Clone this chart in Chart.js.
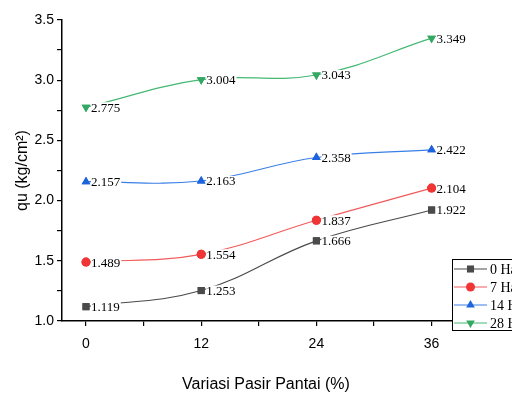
<!DOCTYPE html>
<html>
<head>
<meta charset="utf-8">
<script src="https://cdn.jsdelivr.net/npm/chart.js@4.4.1/dist/chart.umd.min.js"></script>
<style>
  html, body { margin: 0; padding: 0; background: #fff; }
  #wrap { width: 512px; height: 401px; }
</style>
</head>
<body>
<div id="wrap"><canvas id="quChart" width="512" height="401"></canvas></div>
<script>
const xValues = [0, 12, 24, 36];
const seriesNames = ["0 Hari", "7 Hari", "14 Hari", "28 Hari"];
const hari0 = [1.119, 1.253, 1.666, 1.922];
const hari7 = [1.489, 1.554, 1.837, 2.104];
const hari14 = [2.157, 2.163, 2.358, 2.422];
const hari28 = [2.775, 3.004, 3.043, 3.349];
const xTicks = [0, 6, 12, 18, 24, 30, 36];
const xLabelTicks = [0, 12, 24, 36];
const yTicks = [1.0, 1.25, 1.5, 1.75, 2.0, 2.25, 2.5, 2.75, 3.0, 3.25, 3.5];
const yLabelTicks = [1.0, 1.5, 2.0, 2.5, 3.0, 3.5];

function toPoints(vals) {
    return vals.map((v, i) => ({ x: xValues[i], y: v }));
}

function makeSet(label, vals, lineColor, markColor, style, rot, r) {
    return {
        label: label,
        data: toPoints(vals),
        borderColor: lineColor,
        backgroundColor: markColor,
        pointBackgroundColor: markColor,
        pointBorderColor: markColor,
        pointBorderWidth: 0,
        pointStyle: style,
        pointRotation: rot,
        pointRadius: r,
        borderWidth: 1.2,
        tension: 0.4,
        fill: false
    };
}

// value labels with white box, then the legend box
const labelPlugin = {
    id: "valueLabels",
    afterDatasetsDraw(chart) {
        const ctx = chart.ctx;
        ctx.save();
        ctx.font = "13px 'Liberation Serif', 'Times New Roman', serif";
        ctx.textBaseline = "middle";
        chart.data.datasets.forEach((ds, di) => {
            const meta = chart.getDatasetMeta(di);
            meta.data.forEach((pt, i) => {
                const txt = ds.data[i].y.toFixed(3);
                const w = ctx.measureText(txt).width;
                const x = pt.x + 5;
                const y = pt.y + 1;
                ctx.fillStyle = "#fff";
                ctx.fillRect(x, y - 6, w + 1, 12);
                ctx.fillStyle = "#000";
                ctx.fillText(txt, x, y);
            });
            meta.data.forEach(pt => pt.draw(ctx));
        });

        // legend
        const bx = 452, by = 259, bh = 71;
        ctx.fillStyle = "#fff";
        ctx.fillRect(bx, by, 80, bh);
        ctx.strokeStyle = "#000";
        ctx.lineWidth = 1;
        ctx.strokeRect(bx + 0.5, by + 0.5, 80, bh);
        chart.data.datasets.forEach((ds, di) => {
            const y = by + 10 + di * 18;
            ctx.strokeStyle = ds.borderColor;
            ctx.lineWidth = 1.2;
            ctx.beginPath();
            ctx.moveTo(454, y);
            ctx.lineTo(487, y);
            ctx.stroke();
            ctx.fillStyle = ds.pointBackgroundColor;
            ctx.strokeStyle = ds.pointBackgroundColor;
            ctx.lineWidth = 0;
            Chart.helpers.drawPoint(ctx, {
                pointStyle: ds.pointStyle,
                rotation: ds.pointRotation,
                radius: ds.pointRadius,
                borderWidth: 0
            }, 470.5, y);
            ctx.fillStyle = "#000";
            ctx.font = "14px 'Liberation Serif', 'Times New Roman', serif";
            ctx.fillText(ds.label, 490, y + 1);
        });
        ctx.restore();
    }
};

const ctx = document.getElementById("quChart").getContext("2d");
const chart = new Chart(ctx, {
    type: "line",
    data: {
        datasets: [
            makeSet(seriesNames[0], hari0, "#4a4a4a", "#4a4a4a", "rect", 0, 5),
            makeSet(seriesNames[1], hari7, "#f25a5a", "#ef3535", "circle", 0, 4.5),
            makeSet(seriesNames[2], hari14, "#3a7fe6", "#1c63dd", "triangle", 0, 5),
            makeSet(seriesNames[3], hari28, "#45b874", "#33a862", "triangle", 180, 5)
        ]
    },
    options: {
        responsive: false,
        animation: false,
        layout: { padding: { top: 20, right: 42, left: 0, bottom: 0 } },
        plugins: {
            legend: { display: false },
            tooltip: { enabled: false }
        },
        scales: {
            x: {
                type: "linear",
                min: -2.5,
                max: 40,
                afterBuildTicks: s => { s.ticks = xTicks.map(v => ({ value: v })); },
                afterFit: s => { s.height = 80; },
                ticks: {
                    autoSkip: false,
                    maxRotation: 0,
                    color: "#000",
                    padding: 10,
                    font: { family: "'Liberation Sans', Arial, sans-serif", size: 14 },
                    callback: v => xLabelTicks.includes(v) ? String(v) : ""
                },
                grid: {
                    drawOnChartArea: false,
                    drawTicks: true,
                    tickLength: 5,
                    color: "#000",
                    lineWidth: 1.2
                },
                border: { display: true, color: "#000", width: 1.5 },
                title: {
                    display: true,
                    text: "Variasi Pasir Pantai (%)",
                    color: "#000",
                    padding: { top: 4, bottom: 7 },
                    font: { family: "'Liberation Sans', Arial, sans-serif", size: 16 }
                }
            },
            y: {
                type: "linear",
                min: 1.0,
                max: 3.5,
                afterBuildTicks: s => { s.ticks = yTicks.map(v => ({ value: v })); },
                afterFit: s => { s.width = 62; },
                ticks: {
                    autoSkip: false,
                    color: "#000",
                    padding: 3,
                    font: { family: "'Liberation Sans', Arial, sans-serif", size: 14 },
                    callback: v => yLabelTicks.some(t => Math.abs(t - v) < 1e-9) ? v.toFixed(1) : ""
                },
                grid: {
                    drawOnChartArea: false,
                    drawTicks: true,
                    tickLength: 5,
                    color: "#000",
                    lineWidth: 1.2
                },
                border: { display: true, color: "#000", width: 1.5 },
                title: {
                    display: true,
                    text: "qu (kg/cm²)",
                    color: "#000",
                    padding: { top: 13, bottom: 2 },
                    font: { family: "'Liberation Sans', Arial, sans-serif", size: 16 }
                }
            }
        }
    },
    plugins: [labelPlugin]
});
</script>
</body>
</html>
